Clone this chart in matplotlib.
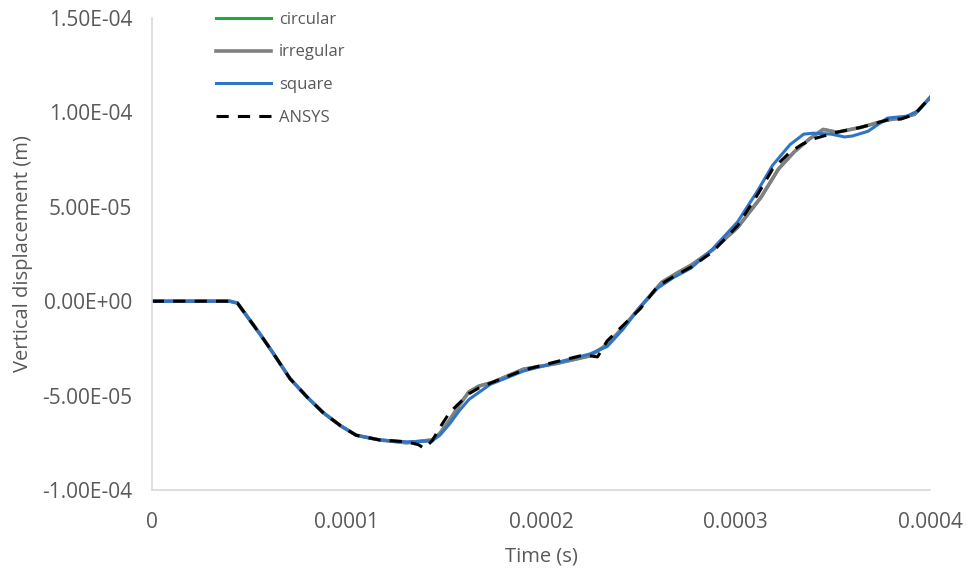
import matplotlib
matplotlib.use('Agg')
import matplotlib.pyplot as plt
import numpy as np

# time in microseconds, displacement in 1e-5 m
t_square = [0, 40, 44, 50, 56, 62, 71, 80, 88, 97, 105, 117, 131, 144, 148, 153, 158, 163, 174,
            191, 208, 225, 234, 242, 251, 260, 268, 277, 288, 301, 311, 319, 328, 335, 340,
            349, 356, 360, 368, 378, 388, 394, 400]
d_square = [0, 0, -0.1, -0.95, -1.8, -2.7, -4.1, -5.1, -5.9, -6.6, -7.1, -7.35, -7.45, -7.4,
            -7.1, -6.5, -5.8, -5.2, -4.4, -3.7, -3.25, -2.8, -2.4, -1.5, -0.3, 0.7, 1.25,
            1.75, 2.75, 4.2, 5.8, 7.2, 8.3, 8.85, 8.9, 8.85, 8.7, 8.75, 9.0, 9.7, 9.8, 10.1, 10.8]

t_ansys = [0, 40, 44, 50, 56, 62, 71, 80, 88, 97, 105, 117, 131, 137, 140, 144, 148, 153, 163,
           168, 175, 191, 208, 222, 229, 234, 242, 251, 260, 268, 277, 288, 301, 311, 319, 328,
           334, 340, 352, 364, 378, 385, 392, 400]
d_ansys = [0, 0, -0.1, -0.95, -1.8, -2.7, -4.1, -5.1, -5.9, -6.6, -7.1, -7.35, -7.45, -7.6,
           -7.8, -7.4, -6.7, -5.9, -4.9, -4.6, -4.3, -3.65, -3.2, -2.85, -2.95, -2.1, -1.3,
           -0.4, 0.8, 1.3, 1.8, 2.6, 4.0, 5.6, 7.0, 7.9, 8.3, 8.6, 8.95, 9.2, 9.6, 9.65, 9.9, 10.8]

t_irreg = [0, 40, 44, 50, 56, 62, 71, 80, 88, 97, 105, 117, 131, 144, 148, 153, 158, 163, 168,
           175, 191, 208, 225, 234, 242, 251, 262, 270, 277, 288, 301, 313, 322, 330, 338, 345,
           352, 364, 378, 385, 392, 400]
d_irreg = [0, 0, -0.1, -0.95, -1.8, -2.7, -4.1, -5.1, -5.9, -6.6, -7.1, -7.35, -7.5, -7.35,
           -7.0, -6.3, -5.5, -4.8, -4.5, -4.3, -3.6, -3.3, -2.9, -2.3, -1.4, -0.3, 1.0, 1.5,
           1.9, 2.7, 3.9, 5.5, 7.0, 7.9, 8.6, 9.1, 8.95, 9.2, 9.6, 9.7, 9.9, 10.8]

t_circ = t_irreg
d_circ = d_irreg

x_ticks = [0, 0.0001, 0.0002, 0.0003, 0.0004]
x_labels = ['0', '0.0001', '0.0002', '0.0003', '0.0004']
y_ticks = [-1e-4, -5e-5, 0, 5e-5, 1e-4, 1.5e-4]
y_labels = ['-1.00E-04', '-5.00E-05', '0.00E+00', '5.00E-05', '1.00E-04', '1.50E-04']

plt.rcParams['font.family'] = ['Open Sans', 'DejaVu Sans']
txt = '#595959'

fig = plt.figure(figsize=(9.67, 5.72), dpi=100)
ax = fig.add_axes([0.157, 0.1434, 0.805, 0.8251])

def xs(t):
    return np.array(t) * 1e-6

def ys(d):
    return np.array(d) * 1e-5

ax.plot(xs(t_circ), ys(d_circ), color='#1faa3a', lw=2.2, label='circular')
ax.plot(xs(t_irreg), ys(d_irreg), color='#808080', lw=2.6, label='irregular')
ax.plot(xs(t_square), ys(d_square), color='#2e75c8', lw=2.2, label='square')
ax.plot(xs(t_ansys), ys(d_ansys), color='black', lw=2.2, ls=(0, (4, 3)), label='ANSYS')

ax.set_xlim(0, 0.0004)
ax.set_ylim(-1e-4, 1.5e-4)
ax.set_xticks(x_ticks)
ax.set_xticklabels(x_labels)
ax.set_yticks(y_ticks)
ax.set_yticklabels(y_labels)
ax.tick_params(length=0, labelsize=15, colors=txt)
ax.tick_params(axis='y', pad=14)
ax.tick_params(axis='x', pad=16)

for s in ['top', 'right']:
    ax.spines[s].set_visible(False)
for s in ['left', 'bottom']:
    ax.spines[s].set_color('#d9d9d9')
    ax.spines[s].set_linewidth(1.2)

ax.set_xlabel('Time (s)', fontsize=14.5, color=txt)
ax.xaxis.set_label_coords(0.5, -0.12)
ax.set_ylabel('Vertical displacement (m)', fontsize=14.5, color=txt)
ax.yaxis.set_label_coords(-0.153, 0.50)

leg = ax.legend(loc='upper left', bbox_to_anchor=(0.063, 1.045), frameon=False,
                fontsize=12, handlelength=3.3, handletextpad=0.5, labelspacing=1.0)
for t in leg.get_texts():
    t.set_color(txt)

fig.savefig('out.png', dpi=100)
